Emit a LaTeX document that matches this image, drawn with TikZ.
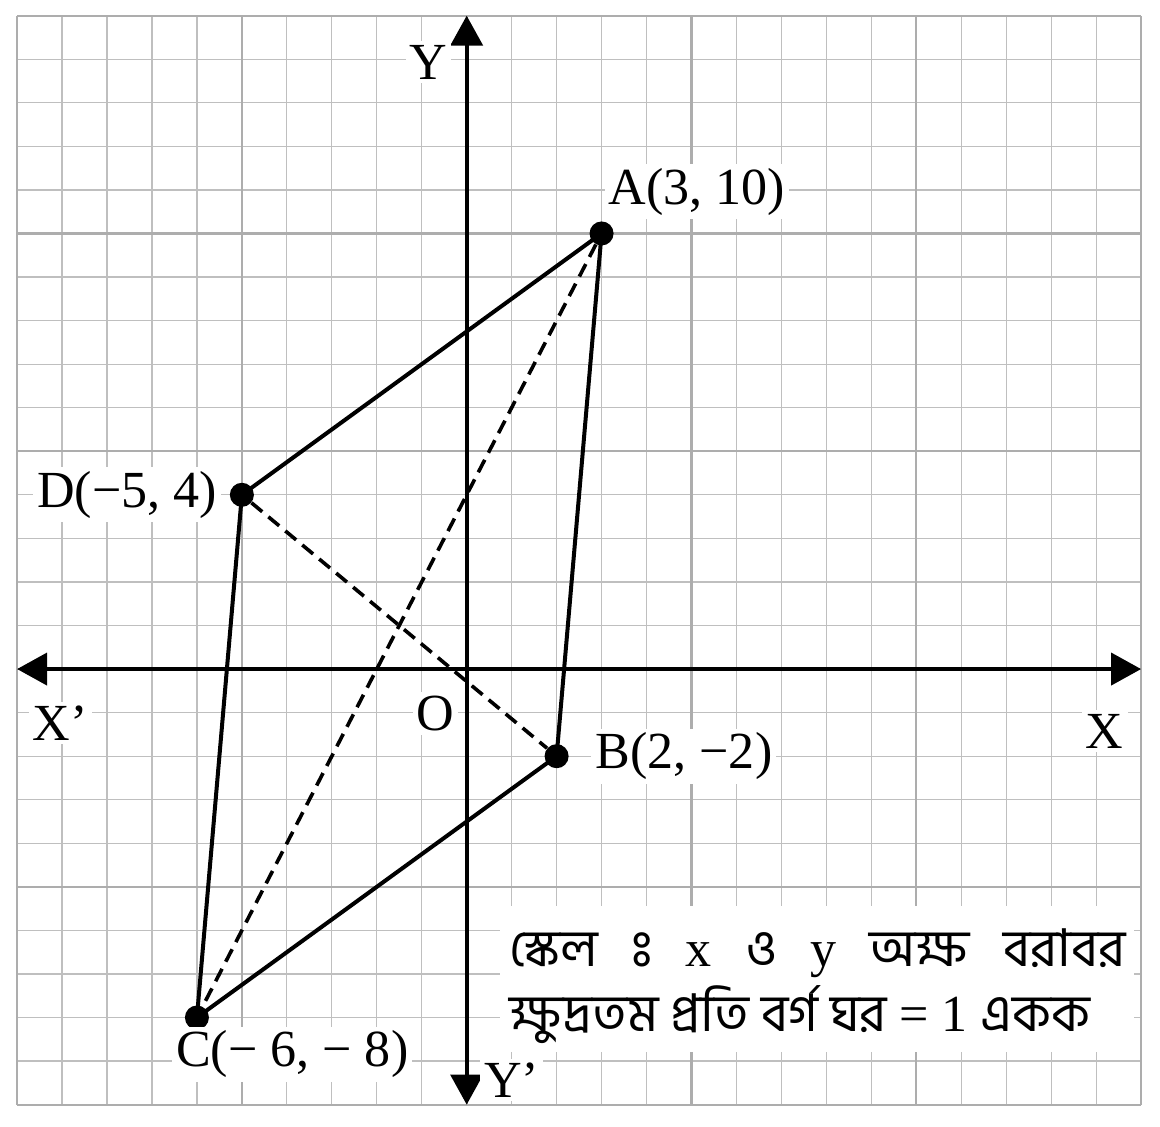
\documentclass[tikz,border=0pt]{standalone}
\usepackage{fontspec}
\setmainfont{Liberation Serif}
\newfontfamily\bnfont[Script=Bengali]{Hind Siliguri}
\newcommand\visarga{{\bnfont\XeTeXglyph\XeTeXcharglyph"0983}}
\usetikzlibrary{arrows.meta,positioning}

\begin{document}
\begin{tikzpicture}[x=22.45pt,y=21.75pt,
    thin grid/.style={black!25,line width=0.6pt},
    bold grid/.style={black!32,line width=1.1pt},
    dot/.style={circle,fill=black,inner sep=0pt,minimum size=12pt},
    lbl/.style={fill=white,inner sep=2pt,font=\fontsize{26}{30}\selectfont},
    side/.style={line width=2pt},
    diag/.style={line width=1.8pt,dash pattern=on 7pt off 4pt},
    axis/.style={line width=2pt,{Triangle[length=15pt,width=16pt]}-{Triangle[length=15pt,width=16pt]}},
    bn/.style={inner sep=0pt,anchor=base west,font=\fontsize{26}{30}\selectfont}]
\useasboundingbox (-10.38,-10.5) rectangle (15.42,15.36);
\foreach \i in {-10,...,15} {
    \draw[thin grid] (\i,-10) -- (\i,15);
    \draw[thin grid] (-10,\i) -- (15,\i);
}
\foreach \i in {-10,-5,...,15} {
    \draw[bold grid] (\i,-10) -- (\i,15);
    \draw[bold grid] (-10,\i) -- (15,\i);
}
\fill[white] (0.75,-5.45) rectangle (14.85,-8.78);
\coordinate (xl) at (-10,0);
\coordinate (xr) at (15,0);
\coordinate (yb) at (0,-10);
\coordinate (yt) at (0,15);
\draw[axis] (xl) -- (xr);
\draw[axis] (yb) -- (yt);
\node[lbl] (xlab) at (14.19,-1.43) {X};
\node[lbl] (xplab) at (-9.04,-1.24) {X’};
\node[lbl] (ylab) at (-0.85,13.93) {Y};
\node[lbl] (yplab) at (1.0,-9.43) {Y’};
\node[lbl] (olab) at (-0.69,-1.01) {O};
\node[dot] (A) at (3,10) {};
\node[dot] (B) at (2,-2) {};
\node[dot] (C) at (-6,-8) {};
\node[dot] (D) at (-5,4) {};
\draw[side] (A.center) -- (B.center) -- (C.center) -- (D.center) -- cycle;
\draw[diag] (A) -- (C);
\draw[diag] (D) -- (B);
\node[lbl,above right=2.5pt and -3pt of A] (Alab) {A(3, 10)};
\node[lbl,right=11pt of B] (Blab) {B(2, −2)};
\node[lbl,below right=0pt and -17pt of C] (Clab) {C(− 6, − 8)};
\node[lbl,left=4pt of D] (Dlab) {D(−5, 4)};
\node[bn] (note1) at (0.94,-6.83) {\hbox to 308pt{{\bnfont স্কেল}\hfill\visarga\hfill x\hfill{\bnfont ও}\hfill y\hfill{\bnfont অক্ষ}\hfill{\bnfont বরাবর}}};
\node[bn] (note2) at (0.94,-8.32) {{\bnfont ক্ষুদ্রতম প্রতি বর্গ ঘর} = 1 {\bnfont একক}};
\end{tikzpicture}
\end{document}
